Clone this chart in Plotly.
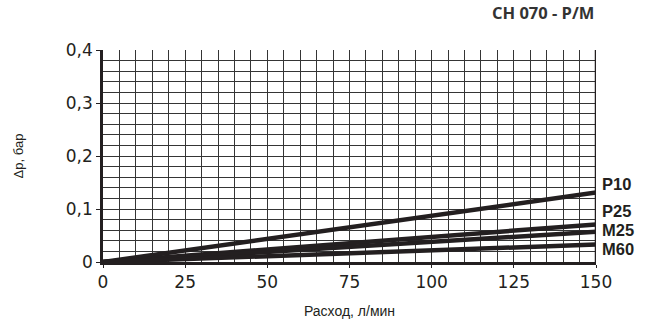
import plotly.graph_objects as go

series_names = ["P10", "P25", "M25", "M60"]
flow = [0, 150]
dp_P10 = [0, 0.131]
dp_P25 = [0, 0.071]
dp_M25 = [0, 0.057]
dp_M60 = [0, 0.033]
series_values = [dp_P10, dp_P25, dp_M25, dp_M60]
label_y = [0.147, 0.097, 0.060, 0.025]

x_ticks = [0, 25, 50, 75, 100, 125, 150]
x_ticktext = ["0", "25", "50", "75", "100", "125", "150"]
y_ticks = [0, 0.1, 0.2, 0.3, 0.4]
y_ticktext = ["0", "0,1", "0,2", "0,3", "0,4"]

line_color = "#231f20"
grid_color = "#353535"
tick_font = dict(family="DejaVu Sans", size=17, color="#231f20")

fig = go.Figure()
for name, vals in zip(series_names, series_values):
    fig.add_trace(go.Scatter(x=flow, y=vals, mode="lines", name=name,
                             line=dict(color=line_color, width=4.5),
                             showlegend=False, hoverinfo="skip"))

for name, ly in zip(series_names, label_y):
    fig.add_annotation(x=150, y=ly, xref="x", yref="y", text="<b>%s</b>" % name,
                       showarrow=False, xanchor="left", yanchor="middle", xshift=5,
                       borderpad=0,
                       font=dict(family="Liberation Sans, Arial", size=16.5, color=line_color))

fig.add_annotation(x=1.0, y=1.0, xref="paper", yref="paper", yshift=38,
                   text="<b>CH 070 - P/M</b>",
                   showarrow=False, xanchor="right", yanchor="middle",
                   font=dict(family="Open Sans", size=16.5, color="#333333"))

fig.update_layout(
    width=661, height=321,
    margin=dict(l=103, r=65, t=49.5, b=59, autoexpand=False),
    paper_bgcolor="white", plot_bgcolor="white",
    font=dict(family="Liberation Sans, Arial", color="#231f20"),
)

fig.update_xaxes(
    range=[0, 150], tickvals=x_ticks, ticktext=x_ticktext,
    tickfont=tick_font, automargin=False,
    showgrid=True, gridcolor=grid_color, gridwidth=1,
    minor=dict(dtick=5, showgrid=True, gridcolor=grid_color, gridwidth=1),
    showline=True, linecolor=line_color, linewidth=2.5, mirror=False,
    ticks="outside", ticklen=3, tickcolor=line_color,
    zeroline=False,
    title=dict(text="Расход, л/мин", font=dict(family="Liberation Sans", size=14, color="#231f20"), standoff=16),
)
fig.update_yaxes(
    range=[0, 0.4], tickvals=y_ticks, ticktext=y_ticktext,
    tickfont=tick_font, automargin=False,
    showgrid=True, gridcolor=grid_color, gridwidth=1,
    minor=dict(dtick=0.02, showgrid=True, gridcolor=grid_color, gridwidth=1),
    showline=True, linecolor=line_color, linewidth=2.5,
    ticks="outside", ticklen=4, tickcolor=line_color,
    zeroline=False,
    title=dict(text="Δp, бар", font=dict(family="Liberation Sans", size=13, color="#231f20"), standoff=40),
)
fig.add_shape(type="line", xref="x", yref="y", x0=150, x1=150, y0=0, y1=0.4,
              line=dict(color=line_color, width=2.5), layer="above")

fig.write_html("out.html")
